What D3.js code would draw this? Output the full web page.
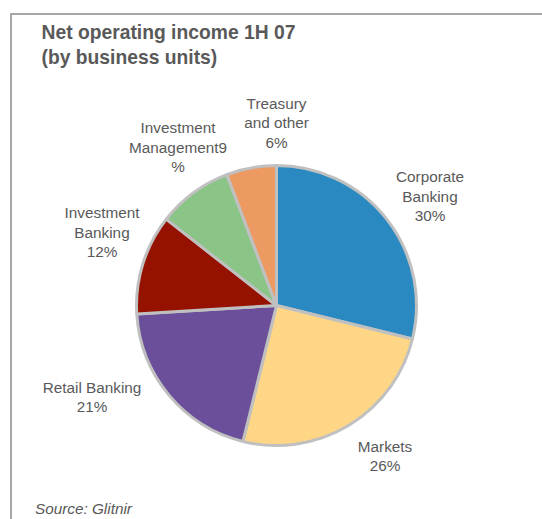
<!DOCTYPE html>
<html>
<head>
<meta charset="utf-8">
<script src="https://cdn.jsdelivr.net/npm/d3@7"></script>
<style>
  body { margin: 0; background: #fff; }
  svg { display: block; }
  text { font-family: "Liberation Sans", Arial, sans-serif; }
</style>
</head>
<body>
<svg id="chart" width="542" height="519"></svg>
<script>
// Business units, clockwise from 12 o'clock
const categories = ["Corporate Banking", "Markets", "Retail Banking", "Investment Banking", "Investment Management", "Treasury and other"];
// Share of net operating income, %
const shares = [30, 26, 21, 12, 9, 6];
// Label wording per unit; "|" breaks a line, {v} takes the share
const labelTemplates = [
  "Corporate|Banking|{v}%",
  "Markets|{v}%",
  "Retail Banking|{v}%",
  "Investment|Banking|{v}%",
  "Investment|Management{v}|%",
  "Treasury|and other|{v}%"
];
const titleLines = ["Net operating income 1H 07", "(by business units)"];
const sourceNote = "Source: Glitnir";

// Styling and layout
const sliceColors = ["#2a89c1", "#fed685", "#6b4f9a", "#961200", "#8ac486", "#ec9a62"];
const centre = [276.5, 305.5];
const radius = 140;
// first-line baseline of each label, relative to the pie centre
const labelOffsets = [[153.5, -123.5], [108.5, 146], [-184.5, 87], [-174.5, -87.5], [-98.5, -172.5], [0, -197]];
const lineHeight = 19.7;
const textColor = "#595959";

const svg = d3.select("#chart");

// Frame
svg.append("rect")
  .attr("x", 11).attr("y", 14)
  .attr("width", 620).attr("height", 600)
  .attr("fill", "none")
  .attr("stroke", "#a6a6a6")
  .attr("stroke-width", 2);

// Title
svg.append("text")
  .attr("x", 41.5).attr("y", 39)
  .attr("font-size", 19.3).attr("font-weight", "bold")
  .attr("fill", textColor)
  .selectAll("tspan").data(titleLines).join("tspan")
  .attr("x", 41.5).attr("dy", (d, i) => i === 0 ? 0 : 24.5)
  .text(d => d);

// Pie
const data = categories.map((c, i) => ({ name: c, value: shares[i], color: sliceColors[i], label: labelTemplates[i], off: labelOffsets[i] }));
const pie = d3.pie().sort(null).value(d => d.value);
const arc = d3.arc().innerRadius(0).outerRadius(radius);

const g = svg.append("g").attr("transform", `translate(${centre[0]},${centre[1]})`);
g.selectAll("path").data(pie(data)).join("path")
  .attr("d", arc)
  .attr("fill", d => d.data.color)
  .attr("stroke", "#c0c0c0")
  .attr("stroke-width", 3)
  .attr("stroke-linejoin", "round");

// Data labels
g.selectAll("text.lbl").data(data).join("text")
  .attr("class", "lbl")
  .attr("text-anchor", "middle")
  .attr("font-size", 15.3)
  .attr("fill", textColor)
  .each(function (d) {
    const lines = d.label.replace("{v}", d.value).split("|");
    d3.select(this).selectAll("tspan").data(lines).join("tspan")
      .attr("x", d.off[0])
      .attr("y", (l, i) => d.off[1] + i * lineHeight)
      .text(l => l);
  });

// Source note
svg.append("text")
  .attr("x", 35).attr("y", 514)
  .attr("font-size", 15.3).attr("font-style", "italic")
  .attr("fill", textColor)
  .text(sourceNote);
</script>
</body>
</html>
